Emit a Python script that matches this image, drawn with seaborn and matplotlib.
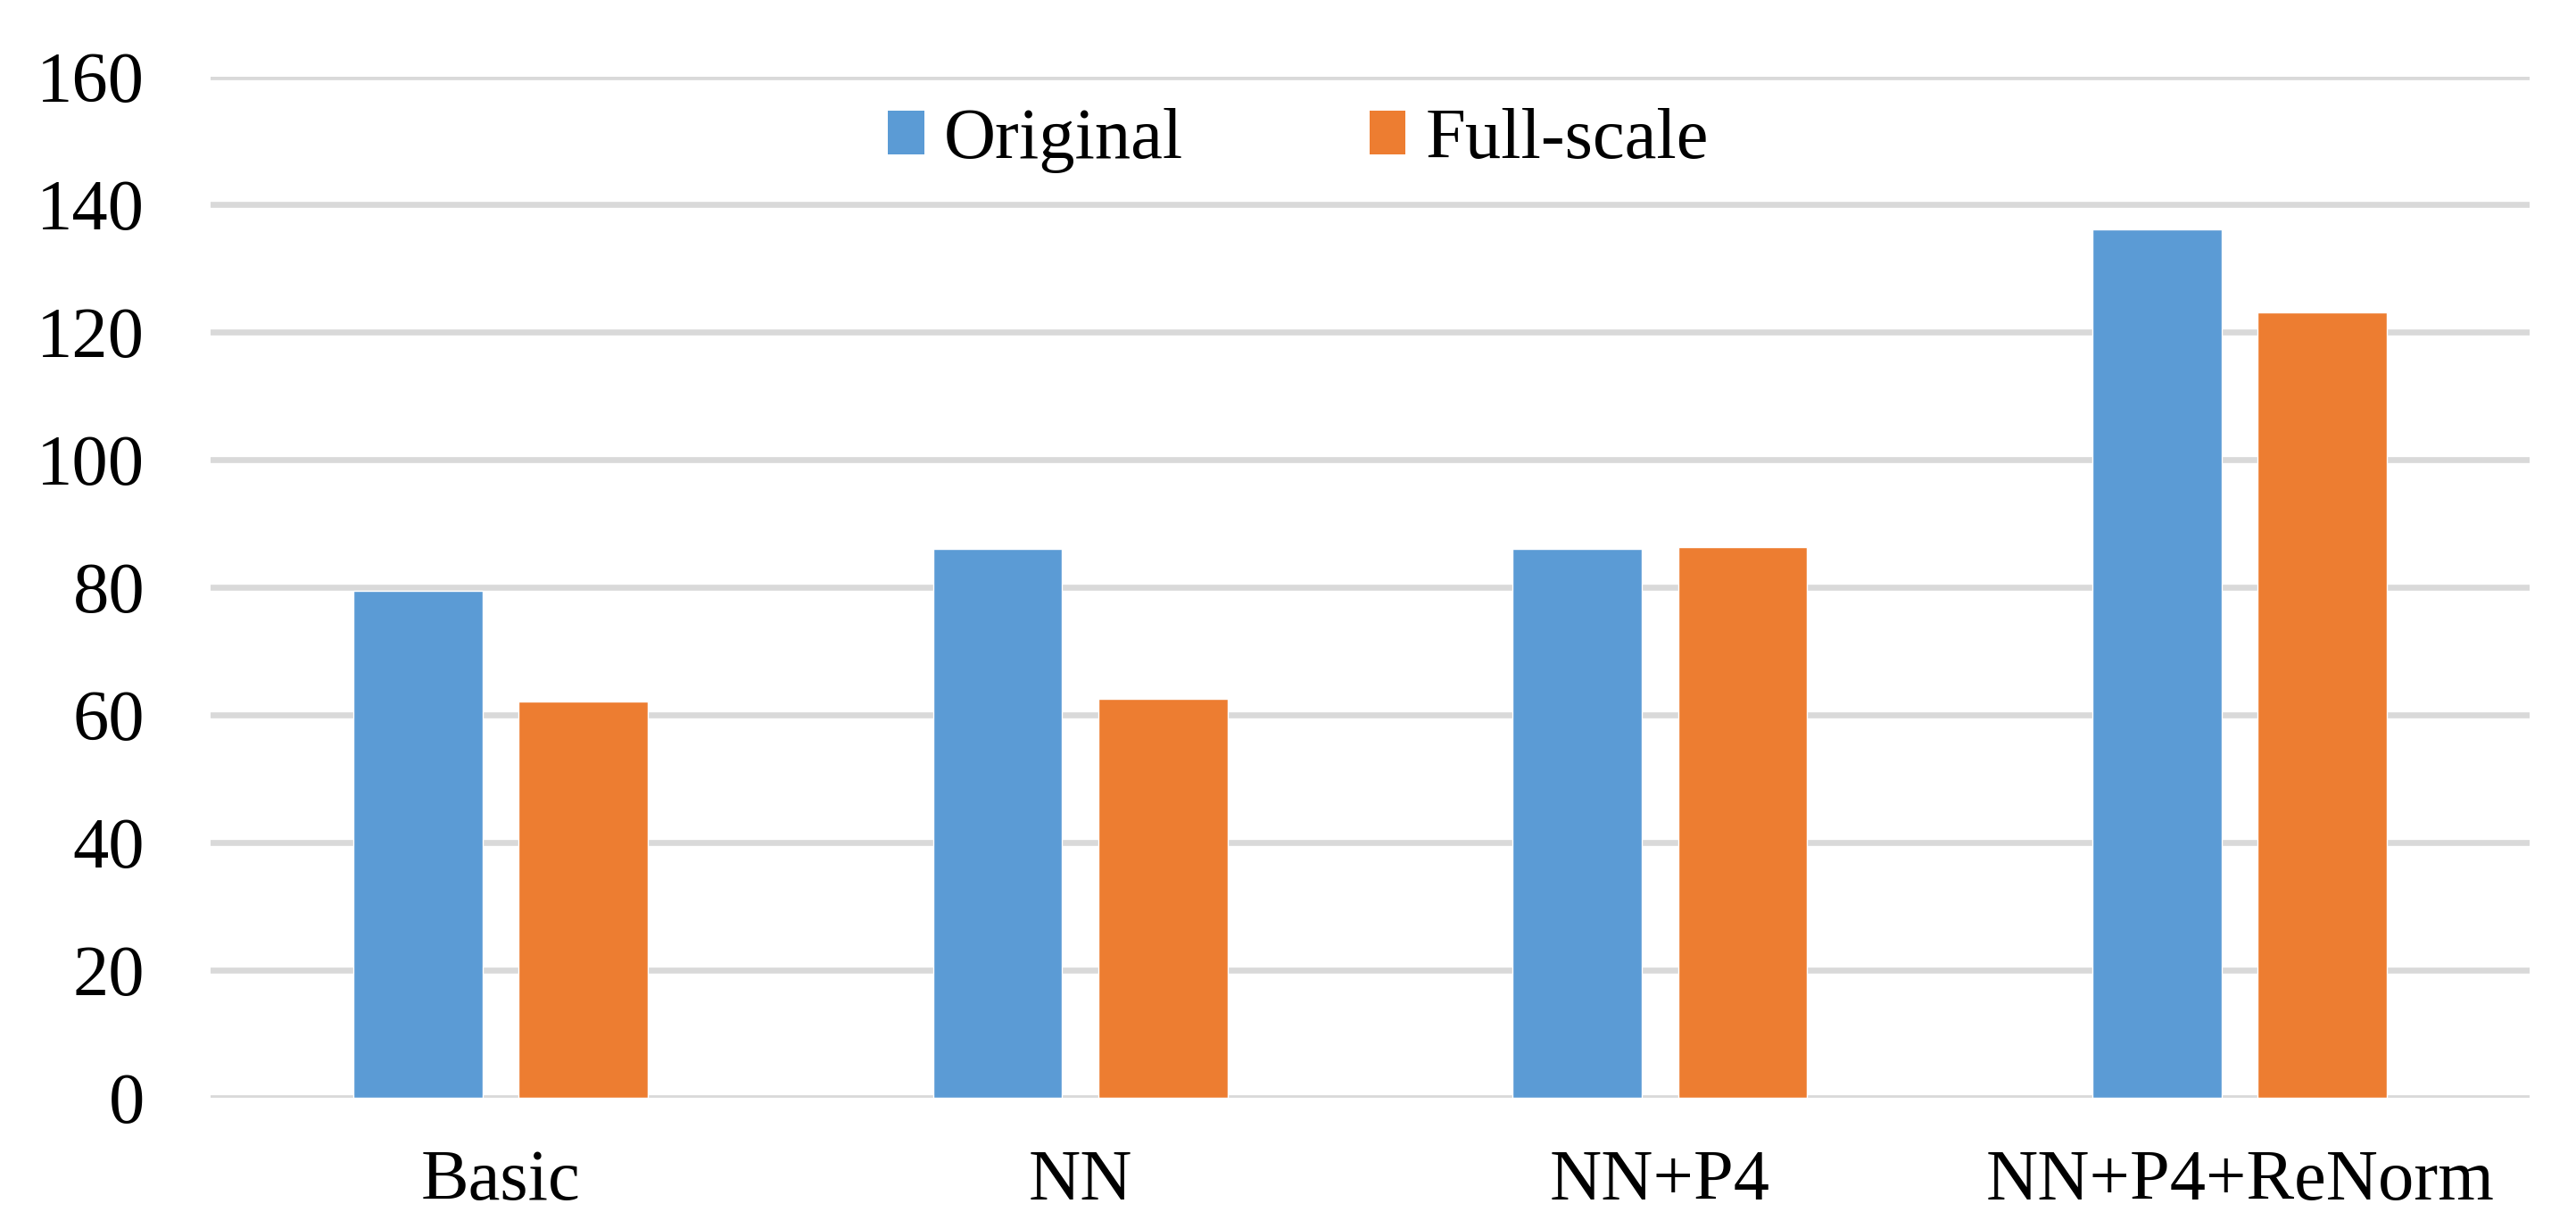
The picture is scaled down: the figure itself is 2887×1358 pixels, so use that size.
import matplotlib
matplotlib.use("Agg")
import matplotlib.pyplot as plt
import seaborn as sns
import pandas as pd
from matplotlib.patches import Patch

categories = ["Basic", "NN", "NN+P4", "NN+P4+ReNorm"]
original = [79.4, 85.9, 85.9, 136.0]
full_scale = [62.0, 62.4, 86.2, 123.0]
series_names = ["Original", "Full-scale"]
colors = ["#5B9BD5", "#ED7D31"]
yticks = [0, 20, 40, 60, 80, 100, 120, 140, 160]

df = pd.DataFrame({
    "category": categories * 2,
    "value": original + full_scale,
    "series": [series_names[0]] * len(categories) + [series_names[1]] * len(categories),
})

sns.set_theme(style="white")
plt.rcParams["font.family"] = ["Liberation Serif", "DejaVu Serif"]
plt.rcParams["text.color"] = "black"
plt.rcParams["xtick.color"] = "black"
plt.rcParams["ytick.color"] = "black"

fig = plt.figure(figsize=(28.87, 13.58), dpi=100)
ax = fig.add_axes([0.0817, 0.0945, 0.9003, 0.8425])

sns.barplot(data=df, x="category", y="value", hue="series", order=categories,
            hue_order=series_names, palette=colors, width=0.57, gap=0.218,
            saturation=1, ax=ax, legend=False, zorder=3)

ax.set_ylim(0, 160)
ax.set_xlim(-0.5, 3.5)
ax.set_yticks(yticks)
ax.set_yticklabels([str(t) for t in yticks])
ax.yaxis.grid(True, color="#D9D9D9", linewidth=4.8, zorder=0)
ax.set_axisbelow(True)
for s in ax.spines.values():
    s.set_visible(False)
ax.tick_params(axis="y", length=0, pad=53, labelsize=58, labelcolor="black")
ax.tick_params(axis="x", length=0, pad=42, labelsize=58, labelcolor="black")
ax.set_xlabel("")
ax.set_ylabel("")

handles = [Patch(facecolor=c, edgecolor="none") for c in colors]
fig.legend(handles, series_names, loc="center", bbox_to_anchor=(0.504, 0.884),
           ncol=2, frameon=False, fontsize=58, handlelength=0.5, handleheight=0.55,
           handletextpad=0.27, columnspacing=2.6, labelcolor="black")

fig.savefig("out.png", dpi=100)
